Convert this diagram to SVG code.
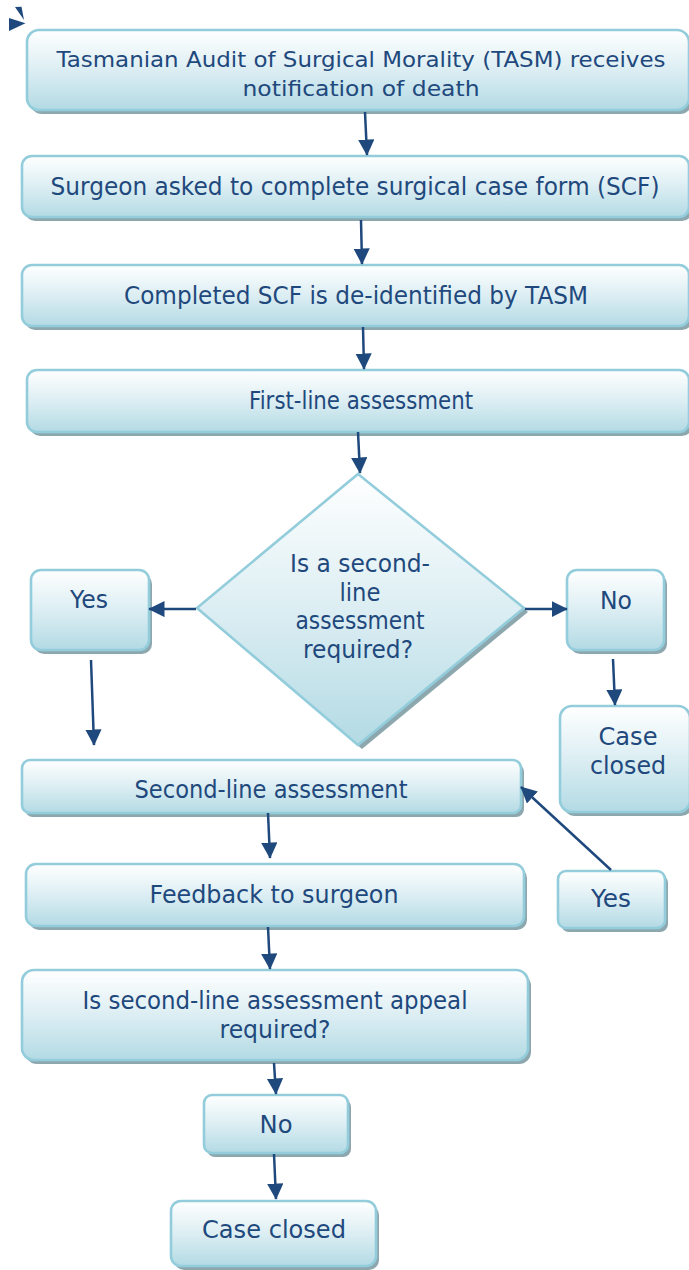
<svg xmlns="http://www.w3.org/2000/svg" width="689" height="1270" viewBox="0 0 689 1270">
  <defs>
    <linearGradient id="boxFill" x1="0" y1="0" x2="0" y2="1">
      <stop offset="0" stop-color="#FFFFFF"/>
      <stop offset="0.5" stop-color="#DCEEF3"/>
      <stop offset="1" stop-color="#B3DAE4"/>
    </linearGradient>
    <marker id="arrow" markerWidth="7" markerHeight="7" refX="6.2" refY="3.25" orient="auto" markerUnits="strokeWidth">
      <path d="M0,0 L6.5,3.25 L0,6.5 Z" fill="#1F497D"/>
    </marker>
  </defs>
  <style>
    .shadow { fill: #8DA7AF; }
    .box { fill: url(#boxFill); stroke: #93CDDC; stroke-width: 2.6; }
    .label { font-family: "DejaVu Sans", "Liberation Sans", sans-serif; font-size: 24px; fill: #1F497D; text-anchor: middle; }
    .small { font-size: 21px; }
    .conn line { stroke: #1F497D; stroke-width: 2.5; marker-end: url(#arrow); }
  </style>

  <!-- corner mark -->
  <g id="corner-mark" fill="#1F497D">
    <polygon points="9,18 25.5,23.3 9,31"/>
    <polygon points="15,7 21.5,6.7 24,20"/>
  </g>

  <g id="notify">
    <rect class="shadow" x="30" y="34" width="662" height="80" rx="12"/>
    <rect class="box" x="27" y="30" width="662" height="80" rx="12"/>
    <text class="label small" x="361" y="67" textLength="609" lengthAdjust="spacingAndGlyphs">Tasmanian Audit of Surgical Morality (TASM) receives</text>
    <text class="label small" x="361" y="96" textLength="237" lengthAdjust="spacingAndGlyphs">notification of death</text>
  </g>

  <g id="scf-request">
    <rect class="shadow" x="25" y="160" width="667" height="61" rx="10"/>
    <rect class="box" x="22" y="156" width="667" height="61" rx="10"/>
    <text class="label" x="355" y="195" textLength="609" lengthAdjust="spacingAndGlyphs">Surgeon asked to complete surgical case form (SCF)</text>
  </g>

  <g id="deidentify">
    <rect class="shadow" x="25" y="269" width="667" height="61" rx="10"/>
    <rect class="box" x="22" y="265" width="667" height="61" rx="10"/>
    <text class="label" x="356" y="304" textLength="464" lengthAdjust="spacingAndGlyphs">Completed SCF is de-identified by TASM</text>
  </g>

  <g id="first-line">
    <rect class="shadow" x="30" y="374" width="662" height="62" rx="10"/>
    <rect class="box" x="27" y="370" width="662" height="62" rx="10"/>
    <text class="label" x="361" y="409" textLength="224" lengthAdjust="spacingAndGlyphs">First-line assessment</text>
  </g>

  <g id="decision">
    <polygon class="shadow" points="362,478 528,612 362,749 201,612"/>
    <polygon class="box" points="358,474 524,608 358,745 197,608"/>
    <text class="label" x="360" y="572" textLength="140" lengthAdjust="spacingAndGlyphs">Is a second-</text>
    <text class="label" x="360" y="601" textLength="41" lengthAdjust="spacingAndGlyphs">line</text>
    <text class="label" x="360" y="629" textLength="129" lengthAdjust="spacingAndGlyphs">assessment</text>
    <text class="label" x="358" y="658" textLength="110" lengthAdjust="spacingAndGlyphs">required?</text>
  </g>

  <g id="yes-left">
    <rect class="shadow" x="34" y="574" width="118" height="80" rx="10"/>
    <rect class="box" x="31" y="570" width="118" height="80" rx="10"/>
    <text class="label" x="89" y="608" textLength="38" lengthAdjust="spacingAndGlyphs">Yes</text>
  </g>

  <g id="no-right">
    <rect class="shadow" x="570" y="574" width="97" height="80" rx="10"/>
    <rect class="box" x="567" y="570" width="97" height="80" rx="10"/>
    <text class="label" x="616" y="609" textLength="32" lengthAdjust="spacingAndGlyphs">No</text>
  </g>

  <g id="closed-right">
    <rect class="shadow" x="563" y="710" width="130" height="106" rx="12"/>
    <rect class="box" x="560" y="706" width="130" height="106" rx="12"/>
    <text class="label" x="628" y="745" textLength="59" lengthAdjust="spacingAndGlyphs">Case</text>
    <text class="label" x="628" y="774" textLength="76" lengthAdjust="spacingAndGlyphs">closed</text>
  </g>

  <g id="second-line">
    <rect class="shadow" x="25" y="764" width="499" height="53" rx="8"/>
    <rect class="box" x="22" y="760" width="499" height="53" rx="8"/>
    <text class="label" x="271" y="798" textLength="273" lengthAdjust="spacingAndGlyphs">Second-line assessment</text>
  </g>

  <g id="feedback">
    <rect class="shadow" x="29" y="868" width="498" height="62" rx="10"/>
    <rect class="box" x="26" y="864" width="498" height="62" rx="10"/>
    <text class="label" x="274" y="903" textLength="249" lengthAdjust="spacingAndGlyphs">Feedback to surgeon</text>
  </g>

  <g id="yes-right">
    <rect class="shadow" x="561" y="875" width="107" height="57" rx="8"/>
    <rect class="box" x="558" y="871" width="107" height="57" rx="8"/>
    <text class="label" x="611" y="907" textLength="40" lengthAdjust="spacingAndGlyphs">Yes</text>
  </g>

  <g id="appeal">
    <rect class="shadow" x="25" y="974" width="506" height="90" rx="12"/>
    <rect class="box" x="22" y="970" width="506" height="90" rx="12"/>
    <text class="label" x="275" y="1009" textLength="385" lengthAdjust="spacingAndGlyphs">Is second-line assessment appeal</text>
    <text class="label" x="275" y="1038" textLength="111" lengthAdjust="spacingAndGlyphs">required?</text>
  </g>

  <g id="no-bottom">
    <rect class="shadow" x="207" y="1099" width="144" height="58" rx="8"/>
    <rect class="box" x="204" y="1095" width="144" height="58" rx="8"/>
    <text class="label" x="276" y="1133" textLength="33" lengthAdjust="spacingAndGlyphs">No</text>
  </g>

  <g id="closed-bottom">
    <rect class="shadow" x="174" y="1205" width="205" height="65" rx="10"/>
    <rect class="box" x="171" y="1201" width="205" height="65" rx="10"/>
    <text class="label" x="274" y="1238" textLength="144" lengthAdjust="spacingAndGlyphs">Case closed</text>
  </g>

  <g id="connectors" class="conn">
    <line x1="365" y1="112" x2="367" y2="155"/>
    <line x1="361" y1="220" x2="362" y2="264"/>
    <line x1="363" y1="327" x2="364" y2="369"/>
    <line x1="358" y1="432" x2="360" y2="473"/>
    <line x1="196" y1="609" x2="149" y2="609"/>
    <line x1="525" y1="609" x2="567" y2="609"/>
    <line x1="91" y1="660" x2="94" y2="745"/>
    <line x1="613" y1="659" x2="615" y2="705"/>
    <line x1="611" y1="870" x2="521" y2="787"/>
    <line x1="268" y1="813" x2="270" y2="858"/>
    <line x1="268" y1="927" x2="270" y2="969"/>
    <line x1="274" y1="1063" x2="276" y2="1094"/>
    <line x1="274" y1="1154" x2="276" y2="1199"/>
  </g>
</svg>
